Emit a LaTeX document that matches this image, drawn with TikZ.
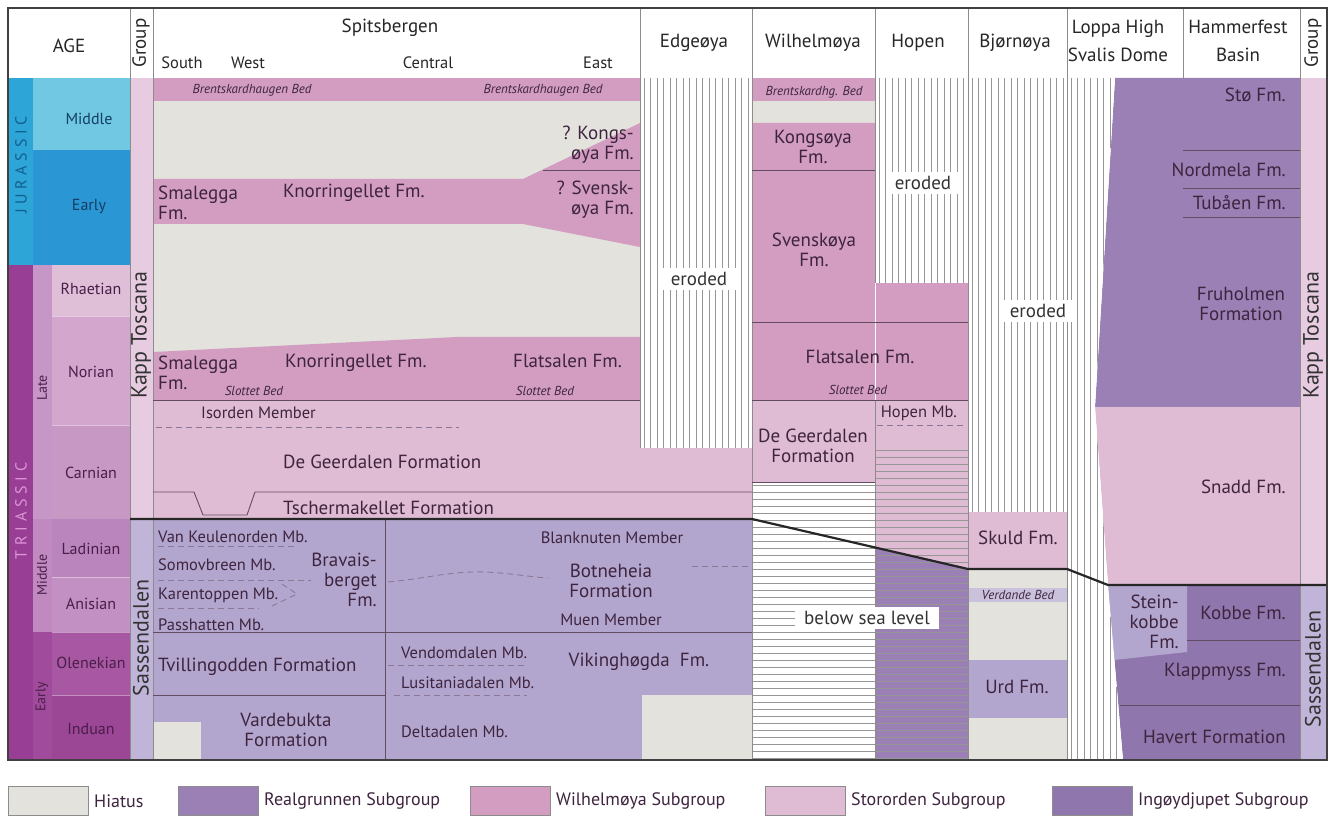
\documentclass[tikz,border=0pt]{standalone}
\usepackage{fontspec}
\setmainfont{PT Sans}
\newfontfamily\periodfont[LetterSpace=30]{PT Sans}
\usetikzlibrary{calc}

\definecolor{hiatus}{RGB}{227,226,221}
\definecolor{wilhel}{RGB}{210,157,192}
\definecolor{stororden}{RGB}{223,188,211}
\definecolor{realgr}{RGB}{154,128,181}
\definecolor{ingoy}{RGB}{143,119,173}
\definecolor{sassen}{RGB}{179,166,206}
\definecolor{kapptosc}{RGB}{231,203,224}
\definecolor{sassgrp}{RGB}{192,181,217}
\definecolor{jurper}{RGB}{45,165,215}
\definecolor{jurmid}{RGB}{112,200,226}
\definecolor{jurearly}{RGB}{42,150,211}
\definecolor{triper}{RGB}{152,62,148}
\definecolor{trilate}{RGB}{198,150,198}
\definecolor{rhaet}{RGB}{223,190,216}
\definecolor{norian}{RGB}{210,166,205}
\definecolor{carnian}{RGB}{200,152,197}
\definecolor{trimid}{RGB}{192,138,192}
\definecolor{ladin}{RGB}{186,132,188}
\definecolor{anis}{RGB}{194,144,195}
\definecolor{triearly}{RGB}{160,75,155}
\definecolor{olenek}{RGB}{168,88,162}
\definecolor{induan}{RGB}{156,70,150}
\definecolor{txt}{RGB}{62,36,62}
\definecolor{jurtxt}{RGB}{22,62,100}
\definecolor{jurlet}{RGB}{18,95,145}
\definecolor{trilet}{RGB}{222,150,215}
\definecolor{tritxt}{RGB}{74,30,74}
\definecolor{bound}{RGB}{100,75,100}
\definecolor{dashc}{RGB}{140,120,150}
\definecolor{hatchc}{RGB}{150,150,150}

\tikzset{
    lbl/.style={inner sep=0pt, text=txt, font=\fontsize{19}{20}\selectfont},
    mbr/.style={inner sep=0pt, text=txt, font=\fontsize{16.5}{18}\selectfont},
    bed/.style={inner sep=0pt, text=txt, font=\fontsize{13}{14}\selectfont\itshape},
    stage/.style={inner sep=0pt, text=tritxt, font=\fontsize{16}{18}\selectfont},
    hdr/.style={inner sep=0pt, text=black!85, font=\fontsize{19}{28}\selectfont},
    subhdr/.style={inner sep=0pt, text=black!85, font=\fontsize{16.5}{18}\selectfont},
    grp/.style={inner sep=0pt, rotate=90, text=black!80, font=\fontsize{22}{23}\selectfont},
    period/.style={inner sep=0pt, rotate=90, font=\fontsize{16}{16}\periodfont},
    bnd/.style={draw=bound, line width=0.9pt},
    dsh/.style={draw=dashc, line width=0.9pt, dash pattern=on 6pt off 4pt},
    hatchln/.style={draw=hatchc, line width=0.8pt},
    sepln/.style={draw=black!45, line width=0.7pt},
    erodedbox/.style={fill=white, inner xsep=9pt, inner ysep=4pt, text=black!80, font=\fontsize{19}{20}\selectfont},
    legtxt/.style={inner sep=0pt, anchor=west, text=txt, font=\fontsize{18}{20}\selectfont}
}

\begin{document}
\begin{tikzpicture}[x=1pt,y=-1pt]
    \useasboundingbox (0,0) rectangle (1339,818);
    \fill[white] (0,0) rectangle (1339,818);

    % Age column
    \fill[jurper] (8,78) rectangle (33,265);
    \fill[jurmid] (33,78) rectangle (130,150);
    \fill[jurearly] (33,150) rectangle (130,265);
    \fill[triper] (8,265) rectangle (33,760);
    \fill[trilate] (33,265) rectangle (52,519);
    \fill[trimid] (33,519) rectangle (52,632);
    \fill[triearly] (33,632) rectangle (52,760);
    \foreach \c/\ya/\yb in {rhaet/265/316, norian/316/425, carnian/425/519, ladin/519/577, anis/577/632, olenek/632/695, induan/695/760}
        \fill[\c] (52,\ya) rectangle (130,\yb);
    \foreach \y in {316,425,577,632,695}
        \draw[white, opacity=0.4, line width=0.6pt] (52,\y) -- (130,\y);

    % Group columns
    \fill[kapptosc] (130,78) rectangle (153,519);
    \fill[sassgrp] (130,519) rectangle (153,760);
    \fill[kapptosc] (1300,78) rectangle (1327,585);
    \fill[sassgrp] (1300,585) rectangle (1327,760);

    % Spitsbergen
    \fill[hiatus] (153,78) rectangle (640,400);
    \fill[wilhel] (153,78) rectangle (640,101);
    \fill[wilhel] (153,179) -- (523,179) -- (640,123) -- (640,247) -- (523,224) -- (153,224) -- cycle;
    \fill[wilhel] (153,352) -- (457,337) -- (640,337) -- (640,400) -- (153,400) -- cycle;
    \fill[stororden] (153,400) rectangle (968,519);
    \fill[sassen] (153,519) rectangle (752,760);
    \fill[hiatus] (154,722) rectangle (201,760);
    \fill[hiatus] (642,695) rectangle (752,760);

    % Wilhelmoya and Hopen
    \fill[wilhel] (752,78) rectangle (875,101);
    \fill[hiatus] (752,101) rectangle (875,123);
    \fill[wilhel] (752,123) -- (875,123) -- (875,283) -- (968,283) -- (968,400) -- (752,400) -- cycle;

    % Bjornoya
    \fill[stororden] (968,512) rectangle (1067,569);
    \fill[hiatus] (968,569) rectangle (1067,760);
    \fill[sassen!70!white] (968,588) rectangle (1067,602);
    \fill[sassen] (968,660) rectangle (1067,718);

    % Loppa High and Hammerfest Basin
    \fill[realgr] (1115,78) -- (1300,78) -- (1300,407) -- (1095,407) -- cycle;
    \fill[stororden] (1095,407) -- (1300,407) -- (1300,585) -- (1108,585) -- cycle;
    \fill[ingoy] (1108,585) -- (1300,585) -- (1300,760) -- (1123,760) -- cycle;
    \fill[sassen] (1108,585) -- (1187,585) -- (1187,652) -- (1114,660) -- cycle;

    % Eroded (vertical hatch)
    \begin{scope}
        \clip (640,78) rectangle (752,448);
        \fill[white] (640,78) rectangle (752,448);
        \foreach \x in {644,650.5,...,752} \draw[hatchln] (\x,78) -- (\x,448);
    \end{scope}
    \begin{scope}
        \clip (875,78) rectangle (968,283);
        \fill[white] (875,78) rectangle (968,283);
        \foreach \x in {879,885.5,...,968} \draw[hatchln] (\x,78) -- (\x,283);
    \end{scope}
    \begin{scope}
        \clip (968,78) rectangle (1067,512);
        \fill[white] (968,78) rectangle (1067,512);
        \foreach \x in {972,978.5,...,1067} \draw[hatchln] (\x,78) -- (\x,512);
    \end{scope}
    \begin{scope}
        \clip (1067,78) -- (1115,78) -- (1095,407) -- (1108,585) -- (1123,760) -- (1067,760) -- cycle;
        \fill[white] (1067,78) rectangle (1125,760);
        \foreach \x in {1071,1077.5,...,1125} \draw[hatchln] (\x,78) -- (\x,760);
    \end{scope}

    % Below sea level (horizontal hatch)
    \begin{scope}
        \clip (752,482) rectangle (875,760);
        \fill[white] (752,482) rectangle (875,760);
        \foreach \y in {485,492,...,760} \draw[hatchln] (752,\y) -- (875,\y);
    \end{scope}
    \begin{scope}
        \clip (875,447) rectangle (968,760);
        \fill[stororden] (875,447) rectangle (968,570);
        \fill[realgr] (875,547.5) -- (968,569) -- (968,760) -- (875,760) -- cycle;
        \foreach \y in {450,457,...,760} \draw[hatchln] (875,\y) -- (968,\y);
    \end{scope}

    % Header and column separators
    \foreach \x in {130,153,752,968,1067,1300}
        \draw[sepln] (\x,8) -- (\x,760);
    \draw[sepln] (640,8) -- (640,448);
    \draw[sepln] (875,8) -- (875,283);
    \draw[white, line width=0.7pt] (875,283) -- (875,400);
    \draw[sepln] (875,400) -- (875,760);
    \draw[sepln] (1183,8) -- (1183,78);

    % Formation boundaries
    \draw[bnd] (543,170) -- (640,170);
    \draw[bnd] (153,400) -- (640,400);
    \draw[bnd] (153,492) -- (194,492) -- (203,515) -- (247,515) -- (255,492) -- (752,492);
    \draw[bnd] (385,519) -- (385,760);
    \draw[bnd] (153,632) -- (752,632);
    \draw[bnd] (153,695) -- (385,695);
    \draw[bnd] (752,170) -- (875,170);
    \draw[bnd] (752,322) -- (968,322);
    \draw[bnd] (752,400) -- (968,400);
    \draw[bnd] (752,482) -- (875,482);
    \draw[bnd] (1183,150) -- (1300,150);
    \draw[bnd] (1183,188) -- (1300,188);
    \draw[bnd] (1183,217) -- (1300,217);
    \draw[bnd] (1187,640) -- (1300,640);
    \draw[bnd] (1120,705) -- (1300,705);

    % Member boundaries
    \draw[dsh] (156,427) -- (459,427);
    \draw[dsh] (158,546) -- (295,546);
    \draw[dsh] (158,580) -- (311,580);
    \draw[dsh] (158,608) -- (259,608);
    \draw[dsh] (282,584) -- (297,594) -- (272,606);
    \draw[dsh] (388,582) .. controls (430,578) and (450,571) .. (485,572) .. controls (510,573) and (530,577) .. (548,578);
    \draw[dsh] (388,665) -- (527,665);
    \draw[dsh] (394,695) -- (527,695);
    \draw[dsh] (692,566) -- (752,566);
    \draw[dsh] (877,425) -- (965,425);

    % Unconformity and frame
    \draw[line width=2.2pt, black!85] (130,519) -- (752,519) -- (968,569) -- (1067,569) -- (1108,585) -- (1327,585);
    \draw[line width=1.4pt, black!75] (8,8) rectangle (1327,760);

    % Header labels
    \node[hdr] (age) at (69,46) {AGE};
    \node[hdr, rotate=90] (grpleft) at (141,43) {Group};
    \node[hdr] (spits) at (390,28) {Spitsbergen};
    \node[subhdr] (south) at (182,63) {South};
    \node[subhdr] (west) at (248,63) {West};
    \node[subhdr] (central) at (428,63) {Central};
    \node[subhdr] (east) at (598,63) {East};
    \node[hdr] (edge) at (694,43) {Edgeøya};
    \node[hdr] (wilh) at (813,43) {Wilhelmøya};
    \node[hdr] (hopen) at (918,43) {Hopen};
    \node[hdr] (bjorn) at (1015,43) {Bjørnøya};
    \node[hdr, align=center] (loppa) at (1118,41) {Loppa High\\Svalis Dome};
    \node[hdr, align=center] (hammer) at (1238,41) {Hammerfest\\Basin};
    \node[hdr, rotate=90] (grpright) at (1313,43) {Group};

    % Age labels
    \node[period, text=jurlet] (jura) at (21,165) {JURASSIC};
    \node[period, text=trilet] (trias) at (21,511) {TRIASSIC};
    \node[stage, text=jurtxt] (jmid) at (89,119) {Middle};
    \node[stage, text=jurtxt] (jearly) at (89,207) {Early};
    \node[stage] (rhaetian) at (91,289) {Rhaetian};
    \node[stage] (norianl) at (91,372) {Norian};
    \node[stage] (carnianl) at (91,473) {Carnian};
    \node[stage] (ladinian) at (91,549) {Ladinian};
    \node[stage] (anisian) at (91,604) {Anisian};
    \node[stage] (olenekian) at (91,663) {Olenekian};
    \node[stage] (induanl) at (91,729) {Induan};
    \node[stage, rotate=90, font=\fontsize{14}{14}\selectfont] (late) at (42,388) {Late};
    \node[stage, rotate=90, font=\fontsize{14}{14}\selectfont] (tmid) at (42,575) {Middle};
    \node[stage, rotate=90, font=\fontsize{14}{14}\selectfont] (tearly) at (42,697) {Early};
    \node[grp] (kappleft) at (141,335) {Kapp Toscana};
    \node[grp] (sassleft) at (141,638) {Sassendalen};
    \node[grp] (kappright) at (1313,335) {Kapp Toscana};
    \node[grp] (sassright) at (1313,669) {Sassendalen};

    % Spitsbergen labels
    \node[bed] (brentA) at (252,90) {Brentskardhaugen Bed};
    \node[bed] (brentB) at (543,90) {Brentskardhaugen Bed};
    \node[lbl, anchor=west, align=left] (smalA) at (158,203) {Smalegga\\Fm.};
    \node[lbl, anchor=west] (knorA) at (283,193) {Knorringellet Fm.};
    \node[lbl, anchor=east, align=right] (kongsA) at (634,145) {? Kongs-\\øya Fm.};
    \node[lbl, anchor=east, align=right] (svenskA) at (634,200) {? Svensk-\\øya Fm.};
    \node[lbl, anchor=west, align=left] (smalB) at (158,373) {Smalegga\\Fm.};
    \node[lbl, anchor=west] (knorB) at (285,363) {Knorringellet Fm.};
    \node[lbl, anchor=west] (flatsA) at (513,361) {Flatsalen Fm.};
    \node[bed] (slotA) at (254,391) {Slottet Bed};
    \node[bed] (slotB) at (545,391) {Slottet Bed};
    \node[mbr, anchor=west] (isorden) at (201,413) {Isorden Member};
    \node[lbl, anchor=west] (geerA) at (283,462) {De Geerdalen Formation};
    \node[lbl, anchor=west] (tscherm) at (283,508) {Tschermakellet Formation};
    \node[mbr, anchor=west] (vankeul) at (158,537) {Van Keulenorden Mb.};
    \node[mbr, anchor=west] (somov) at (158,565) {Somovbreen Mb.};
    \node[mbr, anchor=west] (karent) at (158,595) {Karentoppen Mb.};
    \node[mbr, anchor=west] (passh) at (158,625) {Passhatten Mb.};
    \node[lbl, anchor=east, align=right] (bravais) at (377,580) {Bravais-\\berget\\Fm.};
    \node[lbl, anchor=west] (tvill) at (158,667) {Tvillingodden Formation};
    \node[lbl, align=center] (vardeb) at (286,730) {Vardebukta\\Formation};
    \node[mbr] (blankn) at (612,538) {Blanknuten Member};
    \node[lbl, align=center] (botn) at (611,581) {Botneheia\\Formation};
    \node[mbr] (muen) at (611,620) {Muen Member};
    \node[mbr, anchor=west] (vendom) at (401,653) {Vendomdalen Mb.};
    \node[mbr, anchor=west] (lusit) at (401,683) {Lusitaniadalen Mb.};
    \node[mbr, anchor=west] (deltad) at (401,732) {Deltadalen Mb.};
    \node[lbl] (viking) at (639,662) {Vikinghøgda~ Fm.};

    % Eastern columns labels
    \node[erodedbox] (erodedE) at (699,279) {eroded};
    \node[bed] (brentW) at (814,92) {Brentskardhg. Bed};
    \node[lbl, align=center] (kongsW) at (813,147) {Kongsøya\\Fm.};
    \node[lbl, align=center] (svenskW) at (814,250) {Svenskøya\\Fm.};
    \node[lbl] (flatsW) at (860,357) {Flatsalen Fm.};
    \node[bed] (slotW) at (858,390) {Slottet Bed};
    \node[lbl, align=center] (geerW) at (813,446) {De Geerdalen\\Formation};
    \node[mbr, anchor=east] (hopenmb) at (957,413) {Hopen Mb.};
    \node[erodedbox] (erodedH) at (923,183) {eroded};
    \node[erodedbox] (belowsea) at (867,618) {below sea level};
    \node[erodedbox] (erodedB) at (1038,311) {eroded};
    \node[lbl] (skuld) at (1018,538) {Skuld Fm.};
    \node[bed] (verdande) at (1018,595) {Verdande Bed};
    \node[lbl] (urd) at (1017,687) {Urd Fm.};
    \node[lbl, anchor=east] (sto) at (1286,95) {Stø Fm.};
    \node[lbl, anchor=east] (nordmela) at (1286,170) {Nordmela Fm.};
    \node[lbl, anchor=east] (tubaen) at (1286,203) {Tubåen Fm.};
    \node[lbl, align=center] (fruholm) at (1241,304) {Fruholmen\\Formation};
    \node[lbl, anchor=east] (snadd) at (1286,487) {Snadd Fm.};
    \node[lbl, anchor=east, align=right] (steinkb) at (1179,622) {Stein-\\kobbe\\Fm.};
    \node[lbl, anchor=east] (kobbe) at (1286,613) {Kobbe Fm.};
    \node[lbl, anchor=east] (klappm) at (1286,672) {Klappmyss Fm.};
    \node[lbl, anchor=east] (havert) at (1286,737) {Havert Formation};

    % Legend
    \foreach \x/\c/\t [count=\i] in {8/hiatus/Hiatus, 178/realgr/Realgrunnen Subgroup, 470/wilhel/Wilhelmøya Subgroup, 765/stororden/Stororden Subgroup, 1052/ingoy/Ingøydjupet Subgroup} {
        \draw[fill=\c, draw=black!45, line width=0.6pt] (\x,786) rectangle ++(80,29);
        \node[legtxt] (leg\i) at (\x+86,801) {\t};
    }
\end{tikzpicture}
\end{document}
